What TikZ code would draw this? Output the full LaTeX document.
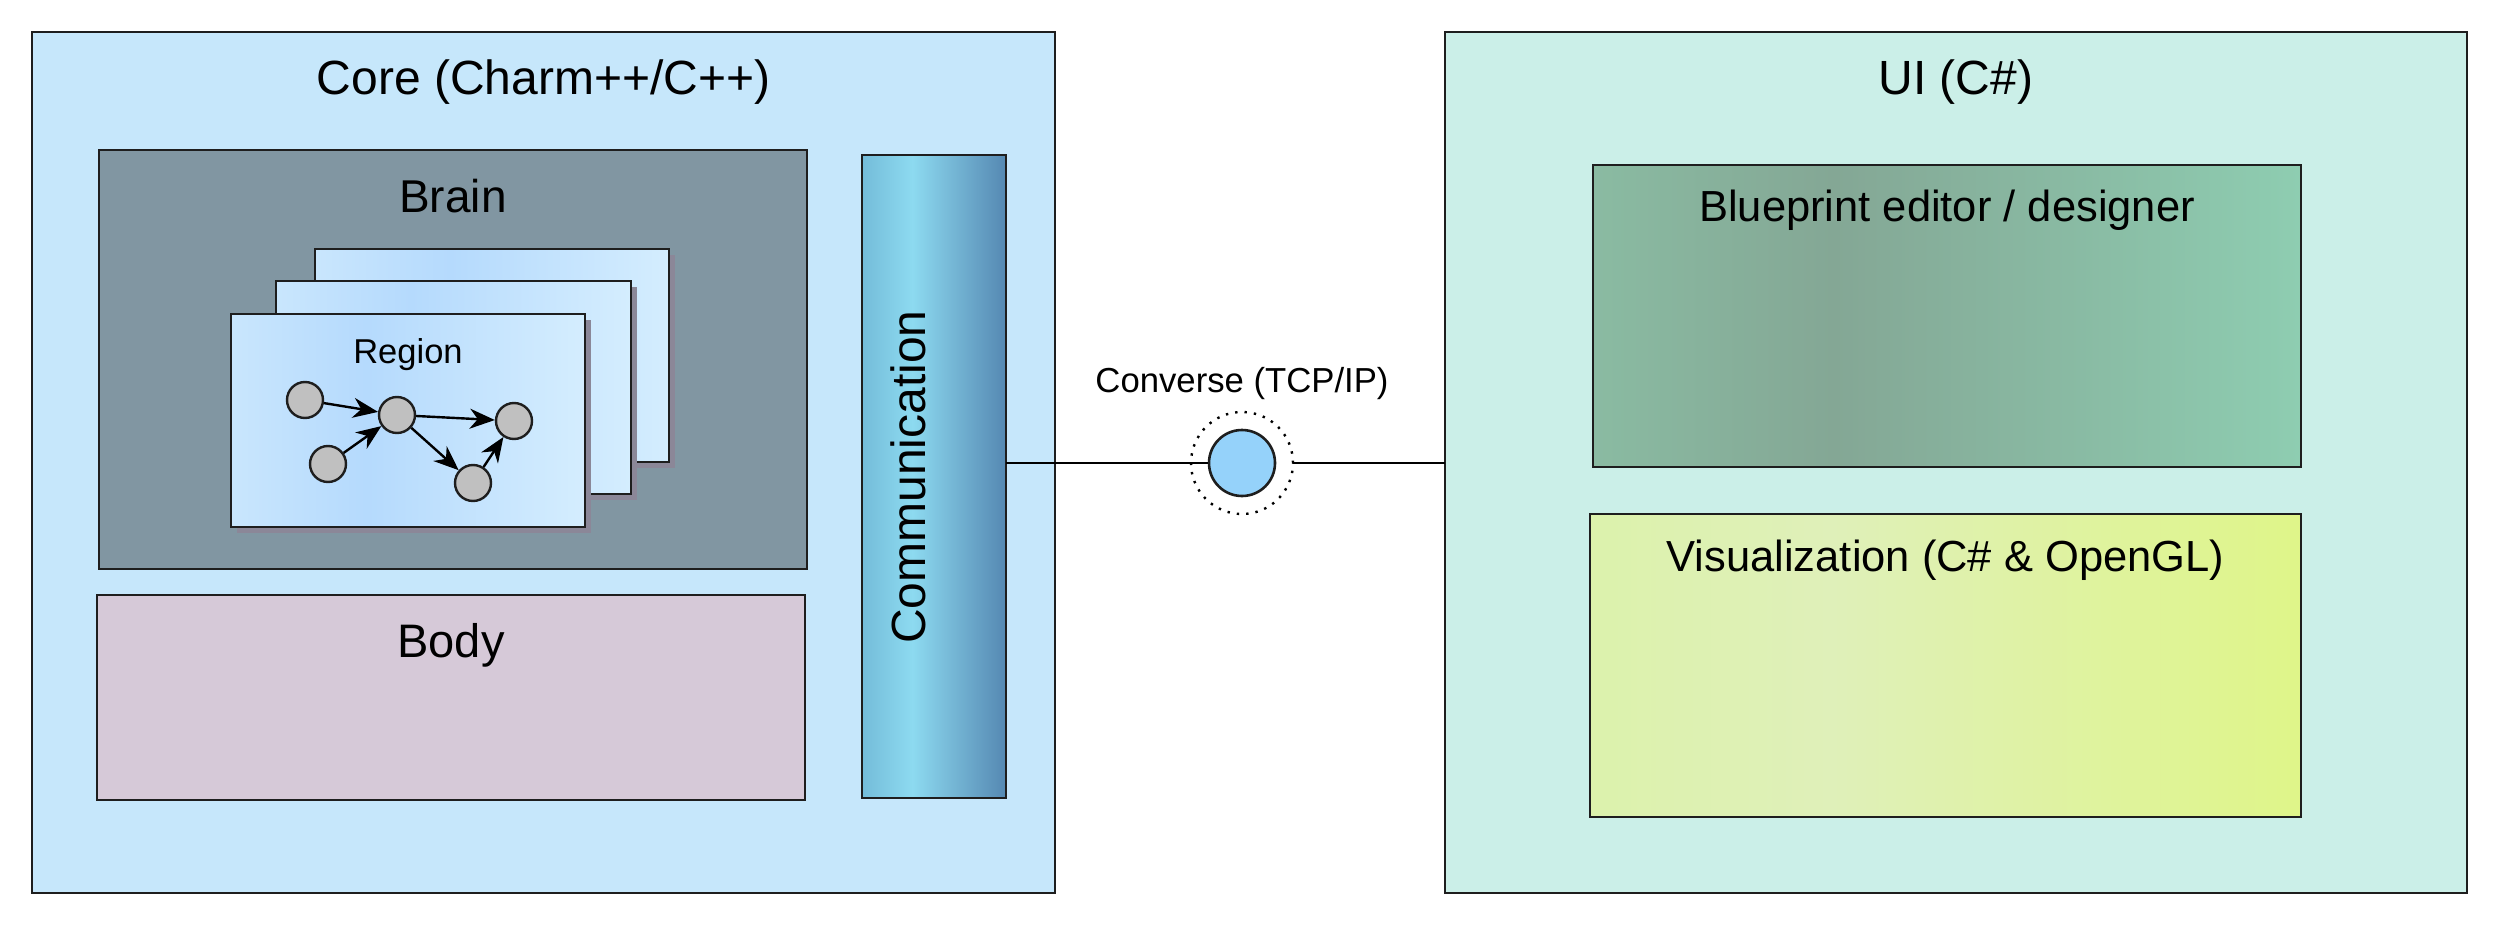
\documentclass[tikz,border=0pt]{standalone}
\usepackage{fontspec}
\setmainfont{Liberation Sans}
\usetikzlibrary{arrows.meta}

% flat fills
\definecolor{corefill}{HTML}{C6E7FB}
\definecolor{uifill}{HTML}{CBEFE8}
\definecolor{brainfill}{HTML}{8196A2}
\definecolor{bodyfill}{HTML}{D6C9D8}
\definecolor{edgecol}{HTML}{1E1E1E}
\definecolor{shadowcol}{HTML}{8B8798}
\definecolor{neuronfill}{HTML}{C0C0C0}
\definecolor{portfill}{HTML}{95D2FA}
% gradient stops
\definecolor{commA}{HTML}{74BCD9}
\definecolor{commB}{HTML}{8DDAF0}
\definecolor{commC}{HTML}{5588B2}
\definecolor{regA}{HTML}{C9E6FD}
\definecolor{regB}{HTML}{B5DAFD}
\definecolor{regC}{HTML}{D4EDFE}
\definecolor{bpA}{HTML}{8ABBA2}
\definecolor{bpB}{HTML}{84A795}
\definecolor{bpC}{HTML}{8ECDB1}
\definecolor{visA}{HTML}{DCF2AC}
\definecolor{visB}{HTML}{DFF0B9}
\definecolor{visC}{HTML}{DFF589}

\pgfdeclarehorizontalshading{commshade}{100bp}{color(0bp)=(commA); color(25bp)=(commA); color(42.5bp)=(commB); color(75bp)=(commC); color(100bp)=(commC)}
\pgfdeclarehorizontalshading{regshade}{100bp}{color(0bp)=(regA); color(25bp)=(regA); color(44bp)=(regB); color(75bp)=(regC); color(100bp)=(regC)}
\pgfdeclarehorizontalshading{bpshade}{100bp}{color(0bp)=(bpA); color(25bp)=(bpA); color(42bp)=(bpB); color(75bp)=(bpC); color(100bp)=(bpC)}
\pgfdeclarehorizontalshading{visshade}{100bp}{color(0bp)=(visA); color(25bp)=(visA); color(42bp)=(visB); color(75bp)=(visC); color(100bp)=(visC)}

\newcommand{\pxfont}[1]{\fontsize{#1}{#1}\selectfont}
% rectangle node from its corner coordinates: name, style, x1, y1, x2, y2
\newcommand{\boxnode}[6]{%
  \node[#2, minimum width={#5-#3}, minimum height={#6-#4}] (#1) at ({(#3+#5)/2},{(#4+#6)/2}) {};}

\tikzset{
  frame/.style={draw=edgecol, line width=2.6pt, rectangle, inner sep=0pt, outer sep=0pt},
  title/.style={anchor=base, inner sep=0pt, text=black},
  neuron/.style={circle, draw=edgecol, line width=2.4pt, fill=neuronfill, minimum size=36pt, inner sep=0pt},
  synapse/.style={draw=black, line width=2.4pt, -{Stealth[length=25pt, width=20pt, inset=8pt]}, shorten >=0pt},
  conn/.style={draw=black, line width=2.5pt},
}

\begin{document}
\begin{tikzpicture}[x=1pt, y=-1pt]
\useasboundingbox[fill=white] (0,0) rectangle (2500,928);

% ---- Core side ----
\boxnode{core}{frame, fill=corefill}{32}{32}{1055}{893}
\node[title, font=\pxfont{48}] (coret) at (543.5,95) {Core (Charm++/C++)};

\boxnode{brain}{frame, fill=brainfill}{99}{150}{807}{569}
\node[title, font=\pxfont{46}] (braint) at (453,212) {Brain};

% stacked regions with offset shadows
\fill[shadowcol] (321,255) rectangle (675,468);
\boxnode{regback}{frame, shade, shading=regshade, line width=2.8pt}{315}{249}{669}{462}
\fill[shadowcol] (282,287) rectangle (637,500);
\boxnode{regmid}{frame, shade, shading=regshade, line width=2.8pt}{276}{281}{631}{494}
\fill[shadowcol] (237,320) rectangle (591,533);
\boxnode{regfront}{frame, shade, shading=regshade, line width=2.8pt}{231}{314}{585}{527}
\node[title, font=\pxfont{34.5}] (regt) at (408,363) {Region};

% neurons
\node[neuron] (n1) at (305,400) {};
\node[neuron] (n2) at (328,464) {};
\node[neuron] (n3) at (397,415) {};
\node[neuron] (n4) at (514,421) {};
\node[neuron] (n5) at (473,483) {};
\draw[synapse] (n1) -- (n3);
\draw[synapse] (n2) -- (n3);
\draw[synapse] (n3) -- (n4);
\draw[synapse] (n3) -- (n5);
\draw[synapse] (n5) -- (n4);

\boxnode{body}{frame, fill=bodyfill}{97}{595}{805}{800}
\node[title, font=\pxfont{47}] (bodyt) at (451,657) {Body};

\boxnode{comm}{frame, shade, shading=commshade}{862}{155}{1006}{798}
\node[title, rotate=90, font=\pxfont{48}] (commt) at (925,477) {Communication};

% ---- UI side ----
\boxnode{ui}{frame, fill=uifill}{1445}{32}{2467}{893}
\node[title, font=\pxfont{48}] (uit) at (1956,95) {UI (C\#)};

\boxnode{bp}{frame, shade, shading=bpshade}{1593}{165}{2301}{467}
\node[title, font=\pxfont{43.5}] (bpt) at (1947,222) {Blueprint editor / designer};

\boxnode{vis}{frame, shade, shading=visshade}{1590}{514}{2301}{817}
\node[title, font=\pxfont{43.5}] (vist) at (1945.5,571) {Visualization (C\# \& OpenGL)};

% ---- interface between the two ----
\node[circle, draw=black, line width=2.4pt, dash pattern=on 2.4pt off 7pt, minimum size=102pt, inner sep=0pt] (ring) at (1242,463) {};
\node[circle, draw=edgecol, line width=2.6pt, fill=portfill, minimum size=66pt, inner sep=0pt] (port) at (1242,463) {};
\node[title, font=\pxfont{34.7}] (convt) at (1242,392) {Converse (TCP/IP)};
\draw[conn] (port.west -| comm.east) -- (port.west);
\draw[conn] (ring.east) -- (ring.east -| ui.west);
\end{tikzpicture}
\end{document}
